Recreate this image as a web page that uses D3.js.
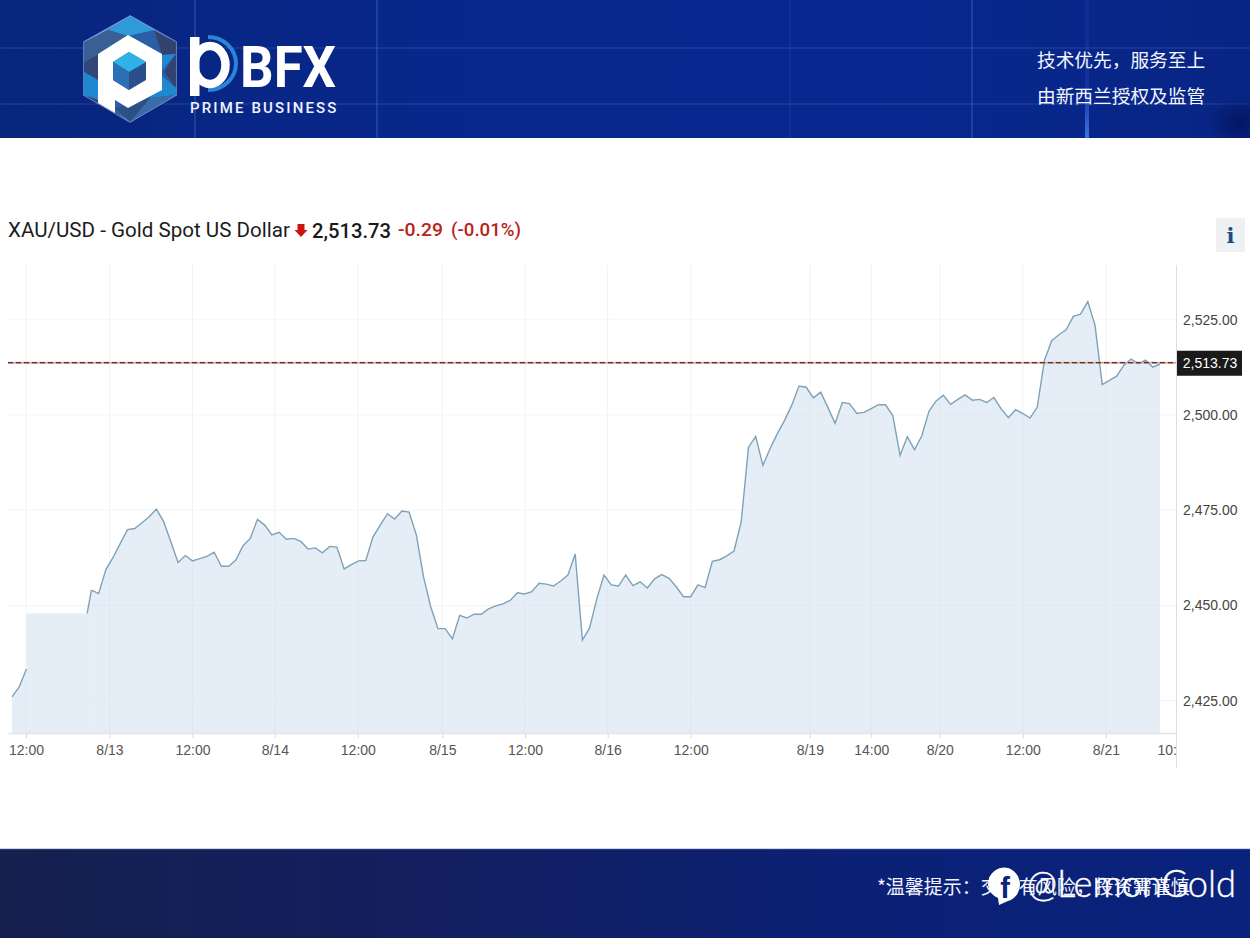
<!DOCTYPE html>
<html><head><meta charset="utf-8">
<script src="https://cdn.jsdelivr.net/npm/d3@7"></script>
<style>html,body{margin:0;padding:0;background:#fff;overflow:hidden}svg{display:block}</style>
</head><body><svg id="c" width="1250" height="938"></svg>
<script>
// ---------- data ----------
const priceValues = [2426.0,2428.6,2433.3,null,null,null,null,null,null,null,null,
2454.0,2453.1,2459.4,2462.6,2466.3,2469.9,2470.2,2471.7,2473.3,2475.3,2472.0,2466.7,2461.3,2463.1,2461.7,2462.3,2462.9,2464.0,2460.3,2460.3,2461.9,2465.7,2467.6,2472.6,2471.1,2468.5,2469.2,2467.4,2467.6,2466.8,2464.8,2465.1,2463.8,2465.5,2465.3,2459.6,2460.7,2461.7,2461.8,2468.0,2471.1,2474.1,2472.7,2474.8,2474.5,2468.5,2457.5,2449.6,2443.9,2443.9,2441.2,2447.4,2446.7,2447.7,2447.7,2449.1,2449.9,2450.4,2451.3,2453.3,2453.0,2453.6,2455.8,2455.6,2455.1,2456.4,2458.0,2463.5,2440.9,2444.1,2451.8,2458.0,2455.4,2455.1,2458.0,2455.2,2456.2,2454.6,2457.0,2458.1,2457.1,2454.9,2452.3,2452.3,2455.4,2454.7,2461.6,2462.0,2463.0,2464.3,2472.0,2491.5,2494.4,2486.8,2491.2,2495.1,2498.6,2502.6,2507.6,2507.3,2504.5,2506.0,2502.0,2497.8,2503.3,2503.0,2500.4,2500.7,2501.7,2502.7,2502.7,2499.8,2489.4,2494.3,2490.9,2494.5,2501.0,2503.7,2505.2,2502.8,2504.1,2505.3,2503.9,2504.1,2503.3,2504.6,2501.6,2499.3,2501.4,2500.4,2499.2,2502.1,2514.4,2519.5,2521.1,2522.4,2525.9,2526.5,2529.8,2523.6,2508.0,2509.1,2510.2,2513.1,2514.7,2513.5,2514.4,2512.6,2513.4];
const plateauIndex = [2, 10.4];
const plateauValue = 2447.9;
const resumeValue = 2454.0;
const lastPrice = 2513.73;
const yTickValues = [2425,2450,2475,2500,2525];
const xTickIndex = [1.94,13.5,25,36.4,47.9,59.6,71.05,82.5,94,110.5,119,128.5,140,151.5,161];
const xTickLabels = ["12:00","8/13","12:00","8/14","12:00","8/15","12:00","8/16","12:00","8/19","14:00","8/20","12:00","8/21","10:00"];
const titleText = "XAU/USD - Gold Spot US Dollar";
const changeText = "-0.29";
const changePctText = "(-0.01%)";
const sloganLines = ["技术优先，服务至上","由新西兰授权及监管"];
const footerNote = "*温馨提示：交易有风险，投资需谨慎";
const watermark = "@LemonGold";

// ---------- setup ----------
const svg = d3.select("#c");
const defs = svg.append("defs");
const lg = (id,x2,y2,stops)=>{const g=defs.append("linearGradient").attr("id",id).attr("x1",0).attr("y1",0).attr("x2",x2).attr("y2",y2);
  stops.forEach(s=>g.append("stop").attr("offset",s[0]).attr("stop-color",s[1]).attr("stop-opacity",s[2]===undefined?1:s[2]));};
lg("hdr",1,0,[[0,"#08257c"],[.35,"#08278c"],[.7,"#082890"],[1,"#082584"]]);
lg("ftr",1,0,[[0,"#15204f"],[.35,"#131f60"],[.7,"#0b2176"],[1,"#09227c"]]);
lg("vglow",0,1,[[0,"#3f7bff",0.08],[.6,"#3f7bff",0.15],[1,"#4d8cff",0.75]]);
const rg = defs.append("radialGradient").attr("id","dark");
rg.append("stop").attr("offset",0).attr("stop-color","#041560").attr("stop-opacity",.95);
rg.append("stop").attr("offset",1).attr("stop-color","#041560").attr("stop-opacity",0);
defs.append("clipPath").attr("id","hdrClip").append("rect").attr("width",1250).attr("height",138);

// ---------- header ----------
svg.append("rect").attr("width",1250).attr("height",138).attr("fill","url(#hdr)");
[48,104].forEach(y=>svg.append("line").attr("x1",0).attr("x2",1250).attr("y1",y).attr("y2",y).attr("stroke","#6f93e0").attr("stroke-opacity",.2).attr("stroke-width",1.5));
[195,377,972].forEach(x=>svg.append("line").attr("x1",x).attr("x2",x).attr("y1",0).attr("y2",138).attr("stroke","#7fa0ea").attr("stroke-opacity",.2).attr("stroke-width",2));
svg.append("line").attr("x1",790).attr("x2",790).attr("y1",0).attr("y2",138).attr("stroke","#7fa0ea").attr("stroke-opacity",.1).attr("stroke-width",1.5);
svg.append("rect").attr("x",1085).attr("width",4).attr("height",138).attr("fill","url(#vglow)");
svg.append("ellipse").attr("cx",1240).attr("cy",122).attr("rx",34).attr("ry",26).attr("fill","url(#dark)").attr("clip-path","url(#hdrClip)");

// logo
const logo = svg.append("g");
const poly=(pts,f,o)=>logo.append("polygon").attr("points",pts).attr("fill",f).attr("opacity",o===undefined?1:o);
poly("130,16 176,42 176,95 130,122 84,95 84,42","#2a5fa8");
logo.append("polygon").attr("points","130,16 176,42 176,95 130,122 84,95 84,42").attr("fill","none").attr("stroke","#9fc4f5").attr("stroke-width",1.5).attr("opacity",.7);
poly("130,16 154,30 128,36 108,30","#2f9ad8");
poly("154,30 176,42 176,54 162,55","#32436f");
poly("84,42 108,30 128,36 98,55 84,62","#3a5f95");
poly("84,62 98,55 98,80 84,72","#33467a");
poly("84,72 98,80 98,100 84,95","#1e88d0");
poly("162,55 176,54 162,70","#1e88d0");
poly("176,54 176,88 164,72","#32436f");
poly("162,76 176,88 176,95 150,98","#1e88d0");
poly("150,98 176,95 130,122","#3a6ca8");
poly("115,108 150,98 130,122","#2c4f86");
poly("84,95 98,100 115,112 130,122","#33467a");
logo.append("path").attr("d","M128,35 L162,54 L162,90 L128,108 L115,100 L115,113 L98,103 L98,54 Z").attr("fill","#fff");
poly("129,52 146,62 146,80 129,90 113,80 113,62","#2a4f8c");
poly("129,52 146,62 129,72 113,62","#2fb2e8");
poly("113,62 129,72 129,90 113,80","#2b6fb5");

// wordmark: the "p" is a drawn ring and stem, as in the logo
svg.append("path").attr("d","M208,37 A28,26.5 0 0 1 208,90").attr("fill","none").attr("stroke","#2a84d8").attr("stroke-width",4);
svg.append("ellipse").attr("cx",210).attr("cy",65).attr("rx",15.5).attr("ry",19).attr("fill","none").attr("stroke","#fff").attr("stroke-width",8.5);
svg.append("rect").attr("x",190).attr("y",37).attr("width",9.5).attr("height",59).attr("fill","#fff");
svg.append("text").attr("x",240).attr("y",87).attr("font-family","Roboto, sans-serif").attr("font-weight",700).attr("font-size",58).attr("fill","#fff").attr("textLength",96).attr("lengthAdjust","spacingAndGlyphs").text("BFX");
svg.append("text").attr("x",190).attr("y",113).attr("font-family","Roboto, sans-serif").attr("font-weight",500).attr("font-size",15).attr("letter-spacing",2.15).attr("fill","#eef3ff").text("PRIME BUSINESS");

sloganLines.forEach((t,i)=>svg.append("text").attr("x",1037).attr("y",67+i*35.5).attr("font-family","'Noto Sans CJK SC'").attr("font-size",18.7).attr("fill","#f4f6ff").text(t));

// ---------- title row ----------
svg.append("text").attr("x",8).attr("y",237).attr("font-family","Roboto, sans-serif").attr("font-weight",400).attr("font-size",21).attr("fill","#1c1c1c").attr("textLength",282).attr("lengthAdjust","spacingAndGlyphs").text(titleText);
svg.append("path").attr("d",d3.line()([[297.5,224],[304.5,224],[304.5,230],[307.5,230],[301,237],[294.5,230],[297.5,230]])+"Z").attr("fill","#c8150f");
svg.append("text").attr("x",312).attr("y",238).attr("font-family","Roboto, sans-serif").attr("font-weight",500).attr("font-size",21).attr("fill","#1a1a1a").attr("textLength",79).attr("lengthAdjust","spacingAndGlyphs").text(d3.format(",.2f")(lastPrice));
svg.append("text").attr("x",398).attr("y",236).attr("font-family","Roboto, sans-serif").attr("font-weight",500).attr("font-size",18).attr("fill","#b8231a").attr("textLength",45).attr("lengthAdjust","spacingAndGlyphs").text(changeText);
svg.append("text").attr("x",451).attr("y",236).attr("font-family","Roboto, sans-serif").attr("font-weight",500).attr("font-size",18).attr("fill","#b8231a").attr("textLength",70).attr("lengthAdjust","spacingAndGlyphs").text(changePctText);
svg.append("rect").attr("x",1216).attr("y",218).attr("width",29).attr("height",34).attr("fill","#eef0f3");
svg.append("text").attr("x",1230.5).attr("y",243).attr("text-anchor","middle").attr("font-family","'DejaVu Serif', serif").attr("font-weight",700).attr("font-size",21).attr("fill","#1d4a7c").text("i");

// ---------- chart ----------
const x = d3.scaleLinear().domain([0,priceValues.length-1]).range([12,1160]);
const y = d3.scaleLinear().domain([2416.5,2539.4]).range([733,265]);
const gridL=8, gridR=1176;

// grid
svg.append("g").selectAll("line").data(yTickValues).join("line").attr("x1",gridL).attr("x2",gridR).attr("y1",d=>y(d)).attr("y2",d=>y(d)).attr("stroke","#f4f5f6");
svg.append("g").selectAll("line").data(xTickIndex.slice(0,-1)).join("line").attr("x1",d=>x(d)).attr("x2",d=>x(d)).attr("y1",265).attr("y2",733).attr("stroke","#f1f3f4");

// area
const rows = priceValues.map((v,i)=>({i,v}));
const fillColor = "rgba(204,222,238,0.5)";
const area = d3.area().defined(d=>d.v!==null).x(d=>x(d.i)).y0(y.range()[0]).y1(d=>y(d.v));
svg.append("path").datum(rows).attr("d",area).attr("fill",fillColor);
const patch = [{i:plateauIndex[0],v:plateauValue},{i:plateauIndex[1],v:plateauValue},{i:11,v:resumeValue}];
svg.append("path").datum(patch).attr("d",area).attr("fill",fillColor);
// line
const line = d3.line().defined(d=>d.v!==null).x(d=>x(d.i)).y(d=>y(d.v));
svg.append("path").datum(rows).attr("d",line).attr("fill","none").attr("stroke","#7fa2b8").attr("stroke-width",1.4);
svg.append("path").datum(patch.slice(1)).attr("d",line).attr("fill","none").attr("stroke","#7fa2b8").attr("stroke-width",1.4);

// axes
const xAxis = svg.append("g").attr("transform","translate(0,733)").call(d3.axisBottom(x).tickValues(xTickIndex).tickSize(5).tickPadding(7).tickFormat((d,i)=>xTickLabels[i]));
xAxis.select(".domain").remove();
xAxis.selectAll("line").attr("stroke","#d5d8da");
xAxis.selectAll("text").attr("font-family","'Liberation Sans', sans-serif").attr("font-size",14).attr("fill","#555");
xAxis.selectAll(".tick").filter((d,i)=>i===xTickIndex.length-1).select("line").remove();
svg.append("rect").attr("x",1176).attr("y",738).attr("width",30).attr("height",30).attr("fill","#fff");
svg.append("line").attr("x1",gridL).attr("x2",gridR).attr("y1",733.5).attr("y2",733.5).attr("stroke","#e2e4e6").attr("stroke-width",1.5);
const yAxis = svg.append("g").attr("transform","translate(1176,0)").call(d3.axisRight(y).tickValues(yTickValues).tickSize(0).tickPadding(7).tickFormat(d3.format(",.2f")));
yAxis.select(".domain").remove();
yAxis.selectAll("text").attr("font-family","'Liberation Sans', sans-serif").attr("font-size",14).attr("fill","#444");
svg.append("line").attr("x1",1176.5).attr("x2",1176.5).attr("y1",265).attr("y2",768).attr("stroke","#dcdee0");

// last price line + label
svg.append("line").attr("x1",gridL).attr("x2",gridR).attr("y1",y(lastPrice)).attr("y2",y(lastPrice)).attr("stroke","#e3a3a0").attr("stroke-width",2);
svg.append("line").attr("x1",gridL).attr("x2",gridR).attr("y1",y(lastPrice)).attr("y2",y(lastPrice)).attr("stroke","#2a1414").attr("stroke-width",1.2).attr("stroke-dasharray","5,3");
svg.append("rect").attr("x",1177).attr("y",y(lastPrice)-12).attr("width",65).attr("height",25).attr("fill","#1a1a1a");
svg.append("text").attr("x",1210).attr("y",y(lastPrice)+5.5).attr("text-anchor","middle").attr("font-family","'Liberation Sans', sans-serif").attr("font-size",14).attr("fill","#fff").text(d3.format(",.2f")(lastPrice));

// ---------- footer ----------
svg.append("rect").attr("y",849).attr("width",1250).attr("height",89).attr("fill","url(#ftr)");
svg.append("line").attr("x1",0).attr("x2",1250).attr("y1",849).attr("y2",849).attr("stroke","#5a6cb0").attr("stroke-opacity",.6);
svg.append("text").attr("x",877).attr("y",894).attr("font-family","'Noto Sans CJK SC'").attr("font-size",19).attr("fill","#f2f4ff").text(footerNote);
svg.append("path").attr("d","M988,885 a16,17 0 1 1 20,16 l-9,4 l-1,-7 a16,17 0 0 1 -10,-13 Z").attr("fill","#fff");
svg.append("text").attr("x",1005).attr("y",898).attr("text-anchor","middle").attr("font-family","'Liberation Sans', sans-serif").attr("font-weight",700).attr("font-size",29).attr("fill","#0c2378").text("f");
svg.append("text").attr("x",1027).attr("y",897).attr("font-family","Lato, 'Noto Sans', sans-serif").attr("font-weight",300).attr("font-size",37).attr("fill","#ffffff").attr("stroke","#ffffff").attr("stroke-width",0.4).attr("textLength",209).attr("lengthAdjust","spacingAndGlyphs").text(watermark);
</script></body></html>
